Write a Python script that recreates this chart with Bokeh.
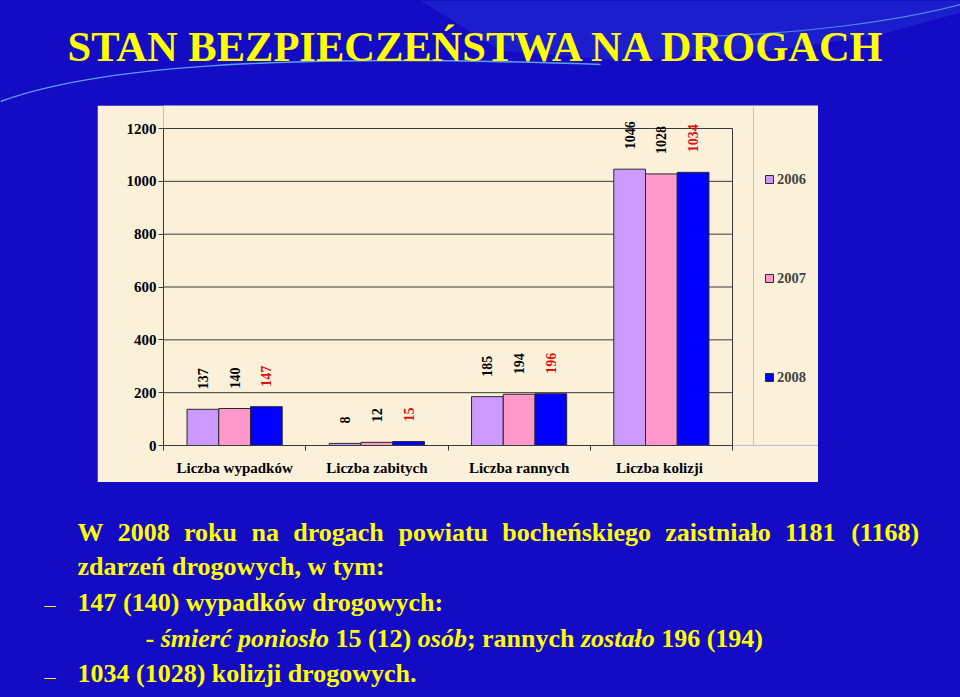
import numpy as np
from bokeh.plotting import figure
from bokeh.layouts import column, row
from bokeh.models import Range1d, FixedTicker, Legend, LegendItem, Span, ColumnDataSource
from bokeh.core.properties import value
from bokeh.embed import file_html
from bokeh.resources import INLINE

# ---------------- data ----------------
categories = ["Liczba wypadków", "Liczba zabitych", "Liczba rannych", "Liczba  kolizji"]
years = ["2006", "2007", "2008"]
values_2006 = [137, 8, 185, 1046]
values_2007 = [140, 12, 194, 1028]
values_2008 = [147, 15, 196, 1034]
y_ticks = [0, 200, 400, 600, 800, 1000, 1200]

title_text = "STAN BEZPIECZEŃSTWA NA DROGACH"
line1 = "W 2008 roku na drogach powiatu bocheńskiego zaistniało 1181 (1168)"
line2 = "zdarzeń drogowych, w tym:"
line3 = "147 (140) wypadków drogowych:"
line4 = [("- ", "bold"), ("śmierć poniosło", "bold italic"), (" 15 (12) ", "bold"),
         ("osób", "bold italic"), ("; rannych ", "bold"), ("zostało", "bold italic"),
         (" 196 (194)", "bold")]
line5 = "1034 (1028) kolizji drogowych."

# ---------------- styles ----------------
BLUE_BG = "#130CC4"
BEIGE = "#FBF1DB"
YELLOW = "#FFFF00"
GRID = "#3a3a3a"
FONT = "Liberation Serif"
MID = 0.34   # distance (em) from alphabetic baseline to the middle of the font box

# Times/Liberation Serif widths (per 1000 em) for text layout
BOLD_W = {" ": 250, "(": 333, ")": 333, ",": 250, "-": 333, ".": 250, ":": 333, ";": 333,
          "W": 1000, "a": 500, "b": 556, "c": 444, "d": 556, "e": 444, "f": 333, "g": 500,
          "h": 556, "i": 278, "j": 333, "k": 556, "l": 278, "m": 833, "n": 556, "o": 500,
          "p": 556, "r": 444, "s": 389, "t": 333, "u": 556, "w": 722, "y": 500, "z": 444,
          "ł": 278, "ń": 556, "ó": 500, "ś": 389, "ć": 444}
ITAL_W = {" ": 250, "(": 333, ")": 333, ";": 333, "-": 333, "a": 500, "b": 500, "c": 444,
          "d": 500, "e": 444, "i": 278, "m": 778, "n": 556, "o": 500, "p": 500, "r": 389,
          "s": 389, "t": 278, "z": 389, "ł": 278, "ó": 500, "ś": 389, "ć": 444}


def text_w(s, style, size):
    table = ITAL_W if "italic" in style else BOLD_W
    return sum(table.get(ch, 500) for ch in s) / 1000.0 * size


def blank(w, h, xr, yr):
    f = figure(width=w, height=h, output_backend="svg", toolbar_location=None, title=None,
               x_axis_type=None, y_axis_type=None, min_border=0,
               border_fill_color=BLUE_BG, background_fill_color=BLUE_BG,
               outline_line_color=None, x_range=Range1d(*xr), y_range=Range1d(*yr))
    return f


# ---------------- title strip ----------------
TITLE_SIZE = 42.5
title_fig = blank(960, 105, (0, 960), (105, 0))
title_fig.patch(x=[420, 960, 960, 880, 760, 620, 500], y=[0, 0, 12, 34, 52, 60, 50],
                fill_color="#4E7DFF", fill_alpha=0.16, line_color=None)
title_fig.bezier(x0=[0], y0=[101], x1=[600], y1=[64], cx0=[90], cy0=[68], cx1=[260], cy1=[52],
                 line_color="#78CCFF", line_width=1.5, line_alpha=0.75)
title_fig.bezier(x0=[700], y0=[36], x1=[960], y1=[4], cx0=[800], cy0=[34], cx1=[900], cy1=[20],
                 line_color="#78CCFF", line_width=1.2, line_alpha=0.6)
title_fig.text(x=[67], y=[60 - MID * TITLE_SIZE], text=[title_text], text_font=value(FONT),
               text_font_style="bold", text_font_size=f"{TITLE_SIZE}px", text_color=YELLOW,
               text_align="left", text_baseline="middle")

# ---------------- chart ----------------
CHART_W, CHART_H = 721, 377
FRAME_L, FRAME_T, FRAME_B = 66, 23, 37
PLOT_W = 569                      # width of the plot area (categories 0..4)
PLOT_H = CHART_H - FRAME_T - FRAME_B
n_cat = len(categories)
px_per_cat = PLOT_W / n_cat
x_end = n_cat + (CHART_W - FRAME_L - PLOT_W) / px_per_cat
px_per_unit = PLOT_H / y_ticks[-1]
y_end = y_ticks[-1] + FRAME_T / px_per_unit   # frame reaches the top of the chart box

p = figure(width=CHART_W, height=CHART_H, output_backend="svg", toolbar_location=None,
           title=None, x_range=Range1d(0, x_end), y_range=Range1d(0, y_end),
           min_border_left=FRAME_L, min_border_right=0, min_border_top=0,
           min_border_bottom=FRAME_B, background_fill_color=BEIGE, border_fill_color=BEIGE,
           outline_line_color=None)
p.grid.visible = False

# grid lines and plot-area border (limited to the category area)
p.segment(x0=[0] * len(y_ticks), x1=[n_cat] * len(y_ticks), y0=y_ticks, y1=y_ticks,
          line_color=GRID, line_width=1)
p.segment(x0=[n_cat], x1=[n_cat], y0=[0], y1=[y_ticks[-1]], line_color=GRID, line_width=1)

idx = np.arange(n_cat) + 0.5
bw = 0.223
series = [values_2006, values_2007, values_2008]
colors = ["#CC99FF", "#FF99CC", "#0000FF"]
label_colors = ["#000000", "#000000", "#E01010"]
label_gap_px = 20
items = []
for k, (vals, col, lc, yr) in enumerate(zip(series, colors, label_colors, years)):
    xs = idx + (k - 1) * bw
    src = ColumnDataSource(dict(x=xs, top=vals, label=[str(v) for v in vals],
                                ly=[v + label_gap_px / px_per_unit for v in vals]))
    r = p.vbar(x="x", top="top", width=bw, source=src, fill_color=col,
               line_color="#2a2a2a", line_width=1)
    p.text(x="x", y="ly", text="label", source=src, angle=np.pi / 2, text_align="left",
           text_baseline="middle", text_font=value(FONT), text_font_style="bold",
           text_font_size="14px", text_color=lc)
    items.append(LegendItem(label=value(yr), renderers=[r]))

xa = p.xaxis[0]
xa.ticker = FixedTicker(ticks=list(idx), minor_ticks=list(range(n_cat + 1)))
xa.major_label_overrides = {float(c): name for c, name in zip(idx, categories)}
xa.bounds = (0, n_cat)
xa.major_tick_out = 0
xa.major_tick_in = 0
xa.minor_tick_out = 5
xa.minor_tick_in = 0
xa.axis_line_color = GRID
xa.minor_tick_line_color = GRID
xa.major_label_text_font = FONT
xa.major_label_text_font_style = "bold"
xa.major_label_text_font_size = "15px"
xa.major_label_text_color = "#000000"
xa.major_label_standoff = 9

ya = p.yaxis[0]
ya.ticker = FixedTicker(ticks=y_ticks, minor_ticks=[])
ya.bounds = (0, y_ticks[-1])
ya.major_tick_out = 5
ya.major_tick_in = 0
ya.minor_tick_out = 0
ya.minor_tick_in = 0
ya.axis_line_color = GRID
ya.major_tick_line_color = GRID
ya.major_label_text_font = FONT
ya.major_label_text_font_style = "bold"
ya.major_label_text_font_size = "15px"
ya.major_label_text_color = "#000000"
ya.major_label_standoff = 2

p.add_layout(Span(location=n_cat + 21 / px_per_cat, dimension="height",
                  line_color="#C9C3B8", line_width=1))

legend = Legend(items=items, location=(601, 59), orientation="vertical",
                glyph_width=10, glyph_height=10, label_height=18, spacing=81,
                padding=0, margin=0, border_line_color=None, background_fill_alpha=0,
                label_text_font=FONT, label_text_font_style="bold",
                label_text_font_size="14.5px", label_standoff=3)
p.add_layout(legend)

left_fig = blank(97, CHART_H, (0, 1), (0, 1))
right_fig = blank(960 - 97 - CHART_W, CHART_H, (0, 1), (0, 1))

# ---------------- text block ----------------
BODY = 26
text_fig = blank(960, 697 - 105 - CHART_H, (0, 960), (697, 105 + CHART_H))
TXT = dict(text_font=value(FONT), text_font_size=f"{BODY}px", text_color=YELLOW,
           text_align="left", text_baseline="middle")


def ymid(baseline, size=BODY):
    return baseline - MID * size


# justified first line
words = line1.split(" ")
widths = [text_w(wd, "bold", BODY) for wd in words]
gap = (920 - 77 - sum(widths)) / (len(words) - 1)
wx, cur = [], 77.0
for wd in widths:
    wx.append(cur)
    cur += wd + gap
text_fig.text(x=wx, y=[ymid(541)] * len(words), text=words, text_font_style="bold", **TXT)

text_fig.text(x=[77, 77, 77], y=[ymid(575), ymid(611), ymid(682)], text=[line2, line3, line5],
              text_font_style="bold", **TXT)

# mixed upright / italic line
cur = 145.0
for seg, style in line4:
    lead = len(seg) - len(seg.lstrip(" "))
    sx = cur + text_w(" " * lead, style, BODY)
    text_fig.text(x=[sx], y=[ymid(647)], text=[seg.strip(" ")], text_font_style=style, **TXT)
    cur += text_w(seg, style, BODY)

text_fig.text(x=[44, 44], y=[604, 676], text=["–", "–"], text_font=value(FONT),
              text_font_size="22px", text_color=YELLOW, text_align="left",
              text_baseline="middle")

layout = column(title_fig, row(left_fig, p, right_fig), text_fig,
                styles={"background-color": BLUE_BG})

open("out.html", "w").write(file_html(layout, INLINE))
